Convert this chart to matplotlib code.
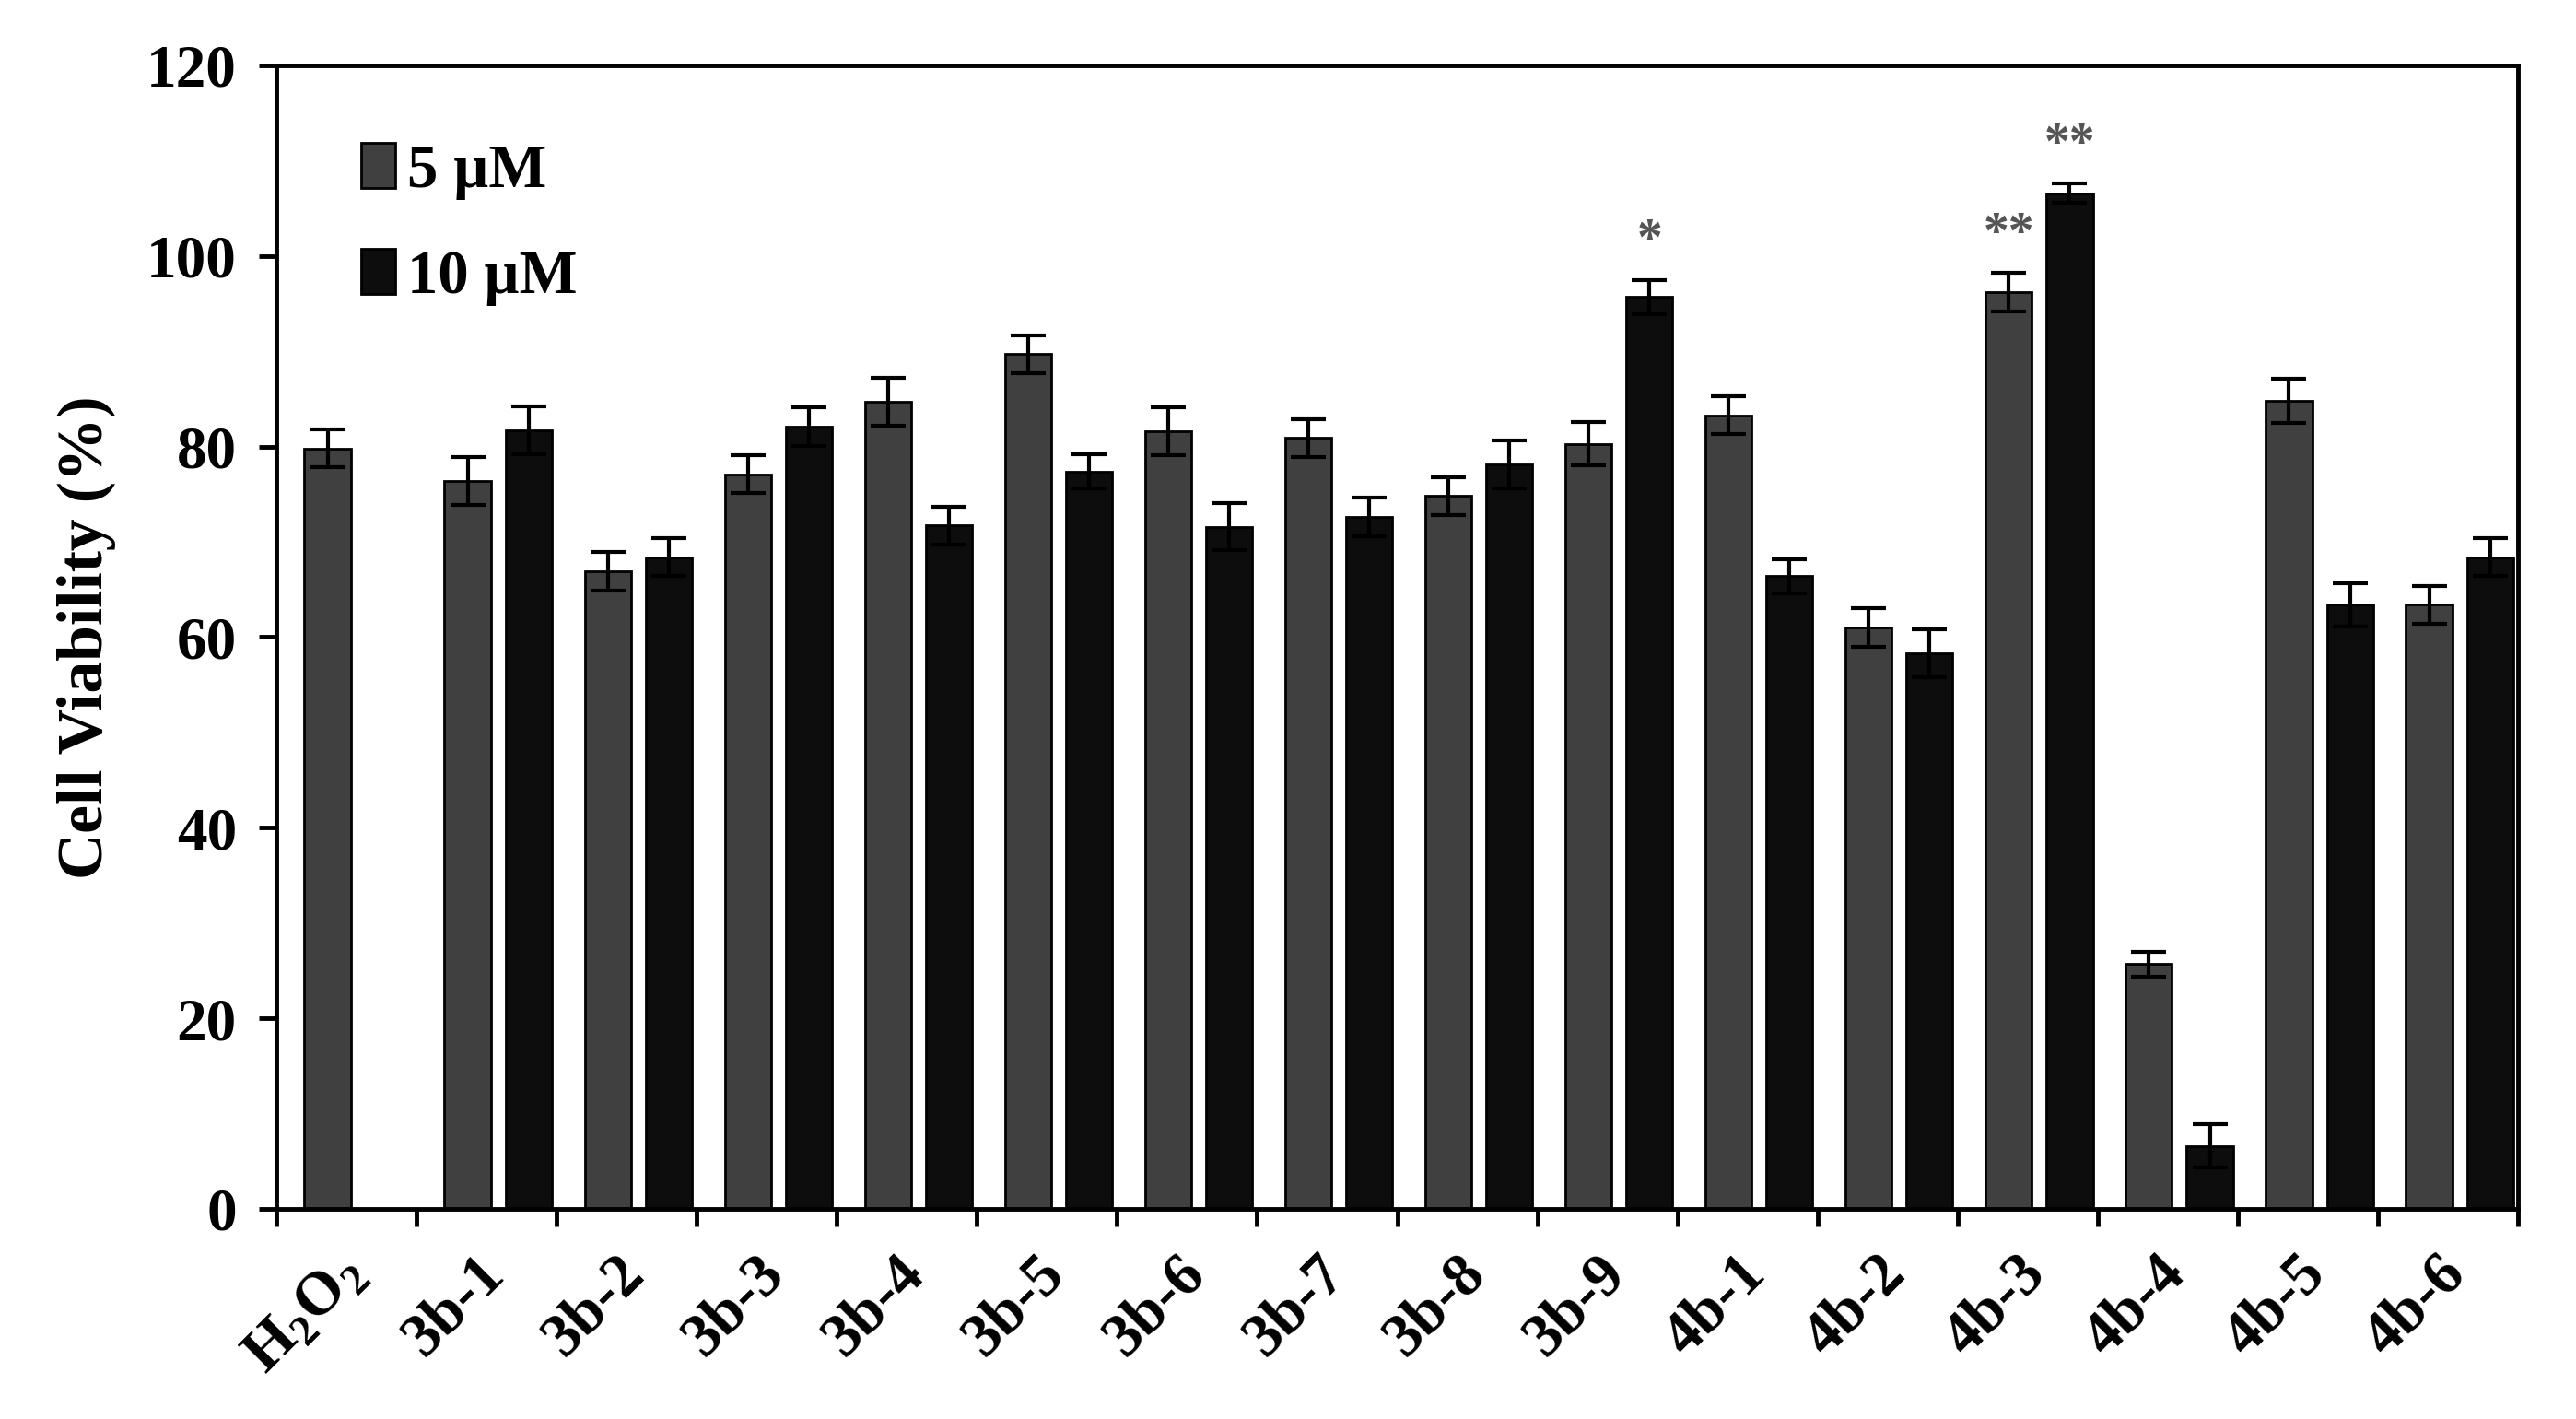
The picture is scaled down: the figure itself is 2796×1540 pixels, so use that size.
import matplotlib
matplotlib.use("Agg")
import matplotlib.pyplot as plt
import numpy as np

plt.rcParams['font.family'] = ['Liberation Serif', 'DejaVu Serif']
plt.rcParams['font.weight'] = 'bold'
plt.rcParams['mathtext.fontset'] = 'custom'
plt.rcParams['mathtext.rm'] = 'Liberation Serif:bold'
plt.rcParams['mathtext.bf'] = 'Liberation Serif:bold'

# data
labels = ['H$_2$O$_2$', '3b-1', '3b-2', '3b-3', '3b-4', '3b-5', '3b-6', '3b-7',
          '3b-8', '3b-9', '4b-1', '4b-2', '4b-3', '4b-4', '4b-5', '4b-6']
v5 = [79.8, 76.4, 66.9, 77.1, 84.7, 89.7, 81.6, 80.9,
      74.8, 80.3, 83.3, 61.0, 96.2, 25.7, 84.8, 63.4]
e5 = [2.0, 2.5, 2.0, 2.0, 2.5, 2.0, 2.5, 2.0,
      2.0, 2.3, 2.0, 2.0, 2.0, 1.3, 2.3, 2.0]
v10 = [np.nan, 81.7, 68.4, 82.1, 71.7, 77.4, 71.6, 72.6,
       78.1, 95.7, 66.4, 58.3, 106.6, 6.6, 63.4, 68.4]
e10 = [np.nan, 2.5, 2.0, 2.0, 2.0, 1.8, 2.5, 2.0,
       2.5, 1.8, 1.8, 2.5, 1.0, 2.3, 2.3, 2.0]
stars = {('3b-9', '10'): '*', ('4b-3', '5'): '**', ('4b-3', '10'): '**'}

c5 = '#404040'
c10 = '#0d0d0d'

fig = plt.figure(figsize=(27.96, 15.40), dpi=100)
ax = fig.add_axes([0.1073, 0.1481, 0.8702, 0.8058])

n = len(labels)
x = np.arange(n)
w = 0.33
x5 = x + 0.20 + w / 2
x10 = x + 0.635 + w / 2

ax.bar(x5, v5, w, color=c5, edgecolor='black', linewidth=2, label='5 µM', zorder=2)
ax.errorbar(x5, v5, yerr=e5, fmt='none', ecolor='black', elinewidth=3,
            capsize=14, capthick=3, zorder=3)

m = ~np.isnan(np.array(v10))
ax.bar(x10[m], np.array(v10)[m], w, color=c10, edgecolor='black', linewidth=2,
       label='10 µM', zorder=2)
ax.errorbar(x10[m], np.array(v10)[m], yerr=np.array(e10)[m], fmt='none',
            ecolor='black', elinewidth=3, capsize=14, capthick=3, zorder=3)

for (lab, ser), s in stars.items():
    i = labels.index(lab)
    if ser == '5':
        xx, top = x5[i], v5[i] + e5[i]
    else:
        xx, top = x10[i], v10[i] + e10[i]
    ax.text(xx, top + 1.5, s, ha='center', va='bottom', fontsize=40,
            color='#555555', fontweight='bold')

ax.set_xlim(0, n)
ax.set_ylim(0, 120)
ax.set_yticks(np.arange(0, 121, 20))
ax.tick_params(axis='y', labelsize=47, width=3.5, length=14, direction='out', pad=17)
ax.set_xticks(np.arange(0, n + 1))
ax.set_xticklabels([])
ax.tick_params(axis='x', width=3.5, length=14, direction='out')
for i, lab in enumerate(labels):
    ax.text(i + 0.42, -3.8, lab, rotation=45, rotation_mode='anchor',
            ha='right', va='top', fontsize=48, fontweight='bold')

for sp in ax.spines.values():
    sp.set_linewidth(3.5)

ax.set_ylabel('Cell Viability (%)', fontsize=50, fontweight='bold', labelpad=24)

ax.legend(loc='upper left', bbox_to_anchor=(0.038, 0.932), frameon=False,
          fontsize=48, handlelength=0.55, handleheight=0.75, handletextpad=0.2,
          labelspacing=0.8, borderaxespad=0, borderpad=0)

fig.savefig('out.png', dpi=100)
